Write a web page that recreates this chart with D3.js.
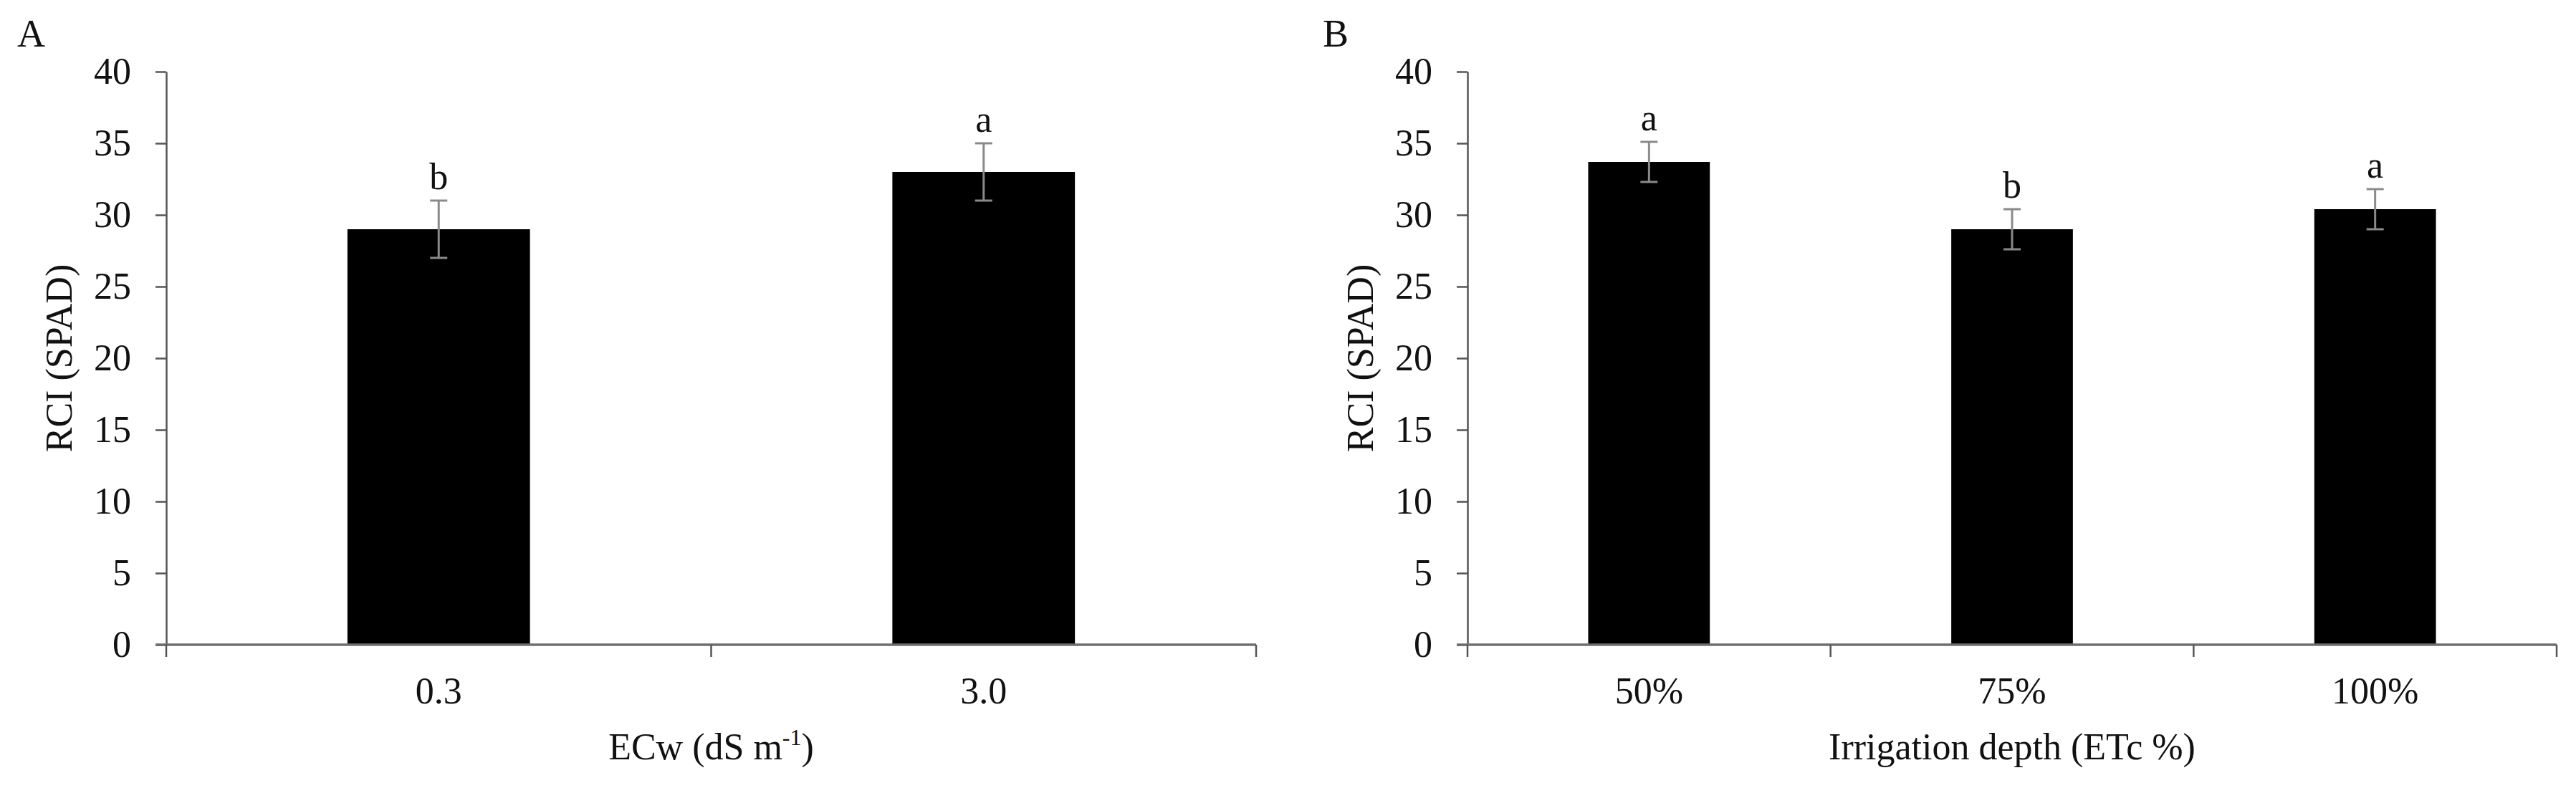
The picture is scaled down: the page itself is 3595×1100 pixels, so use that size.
<!DOCTYPE html>
<html>
<head>
<meta charset="utf-8">
<script src="https://cdn.jsdelivr.net/npm/d3@7"></script>
<style>
  body { margin: 0; background: #fff; }
  text { font-family: "Liberation Serif", "Times New Roman", serif; fill: #111; }
</style>
</head>
<body>
<div class="container"></div>
<script>
(function(){
  // panel A: salinity of irrigation water
  const catsA = ['0.3', '3.0'];
  const meansA = [29.0, 33.0];
  const errA = [2.0, 2.0];
  const lettersA = ['b', 'a'];

  // panel B: irrigation depth
  const catsB = ['50%', '75%', '100%'];
  const meansB = [33.7, 29.0, 30.4];
  const errB = [1.4, 1.4, 1.4];
  const lettersB = ['a', 'b', 'a'];

  const yTicks = [0, 5, 10, 15, 20, 25, 30, 35, 40];

  const config = {w: 3595, h: 1100, top: 100, bottom: 900, font: 52};

  const svg = d3.select('.container').append('svg')
    .attr('width', config.w)
    .attr('height', config.h)
    .attr('viewBox', '0 0 ' + config.w + ' ' + config.h);

  svg.append('rect').attr('width', config.w).attr('height', config.h).attr('fill', '#fff');

  const y = d3.scaleLinear()
    .domain([0, 40])
    .range([config.bottom, config.top]);

  function panel(opts) {
    const g = svg.append('g');
    const x = d3.scaleBand()
      .domain(opts.cats)
      .range([opts.x0, opts.x1])
      .paddingInner(0.665)
      .paddingOuter(0.3325);

    const rows = opts.cats.map((c, i) => ({cat: c, mean: opts.means[i], err: opts.errs[i], letter: opts.letters[i]}));

    // bars
    g.selectAll('rect.bar')
      .data(rows)
      .enter().append('rect')
        .attr('class', 'bar')
        .attr('x', d => x(d.cat))
        .attr('y', d => y(d.mean))
        .attr('width', x.bandwidth())
        .attr('height', d => y(0) - y(d.mean))
        .attr('fill', '#000');

    // error bars
    const eb = g.selectAll('g.err')
      .data(rows)
      .enter().append('g')
        .attr('class', 'err')
        .attr('transform', d => `translate(${x(d.cat) + x.bandwidth() / 2},0)`)
        .attr('stroke', '#8a8a8a')
        .attr('stroke-width', 3);
    eb.append('line')
      .attr('y1', d => y(d.mean + d.err))
      .attr('y2', d => y(d.mean - d.err));
    eb.append('line')
      .attr('x1', -12).attr('x2', 12)
      .attr('y1', d => y(d.mean + d.err))
      .attr('y2', d => y(d.mean + d.err));
    eb.append('line')
      .attr('x1', -12).attr('x2', 12)
      .attr('y1', d => y(d.mean - d.err))
      .attr('y2', d => y(d.mean - d.err));

    // significance letters
    g.selectAll('text.letter')
      .data(rows)
      .enter().append('text')
        .attr('class', 'letter')
        .attr('x', d => x(d.cat) + x.bandwidth() / 2)
        .attr('y', d => y(d.mean + d.err) - 16)
        .attr('text-anchor', 'middle')
        .attr('font-size', config.font)
        .text(d => d.letter);

    // y axis
    const yAxis = g.append('g')
      .attr('transform', `translate(${opts.x0},0)`)
      .call(d3.axisLeft(y).tickValues(yTicks).tickSize(15).tickSizeOuter(0).tickPadding(34));
    yAxis.select('.domain').attr('stroke', '#555').attr('stroke-width', 2.5);
    yAxis.selectAll('.tick line').attr('stroke', '#555').attr('stroke-width', 2.5);
    yAxis.selectAll('.tick text')
      .attr('font-size', config.font)
      .attr('font-family', '"Liberation Serif", "Times New Roman", serif')
      .attr('fill', '#111');

    // x axis: line plus boundary ticks between categories
    const bounds = d3.range(opts.cats.length + 1).map(i => opts.x0 + i * x.step());
    g.append('line')
      .attr('x1', opts.x0 - 15).attr('x2', opts.x1)
      .attr('y1', y(0)).attr('y2', y(0))
      .attr('stroke', '#6e6e6e')
      .attr('stroke-width', 3.5);
    g.selectAll('line.xtick')
      .data(bounds)
      .enter().append('line')
        .attr('class', 'xtick')
        .attr('x1', d => d).attr('x2', d => d)
        .attr('y1', y(0)).attr('y2', y(0) + 17)
        .attr('stroke', '#555')
        .attr('stroke-width', 2.5);

    g.selectAll('text.xlab')
      .data(opts.cats)
      .enter().append('text')
        .attr('class', 'xlab')
        .attr('x', d => x(d) + x.bandwidth() / 2)
        .attr('y', y(0) + 82)
        .attr('text-anchor', 'middle')
        .attr('font-size', config.font)
        .text(d => d);

    // axis titles
    const xt = g.append('text')
      .attr('x', (opts.x0 + opts.x1) / 2)
      .attr('y', 1060)
      .attr('text-anchor', 'middle')
      .attr('font-size', config.font);
    opts.xTitle(xt);

    g.append('text')
      .attr('transform', `translate(${opts.x0 - 132},${(config.top + config.bottom) / 2}) rotate(-90)`)
      .attr('text-anchor', 'middle')
      .attr('font-size', config.font)
      .text('RCI (SPAD)');

    g.append('text')
      .attr('x', opts.labelX)
      .attr('y', 65)
      .attr('font-size', 54)
      .text(opts.label);
  }

  panel({
    cats: catsA, means: meansA, errs: errA, letters: lettersA,
    x0: 232, x1: 1753, label: 'A', labelX: 24,
    xTitle: t => {
      t.append('tspan').text('ECw (dS m');
      t.append('tspan').attr('font-size', 32).attr('dy', -20).text('-1');
      t.append('tspan').attr('dy', 20).text(')');
    }
  });

  panel({
    cats: catsB, means: meansB, errs: errB, letters: lettersB,
    x0: 2048, x1: 3568, label: 'B', labelX: 1846,
    xTitle: t => t.text('Irrigation depth (ETc %)')
  });
})();
</script>
</body>
</html>
